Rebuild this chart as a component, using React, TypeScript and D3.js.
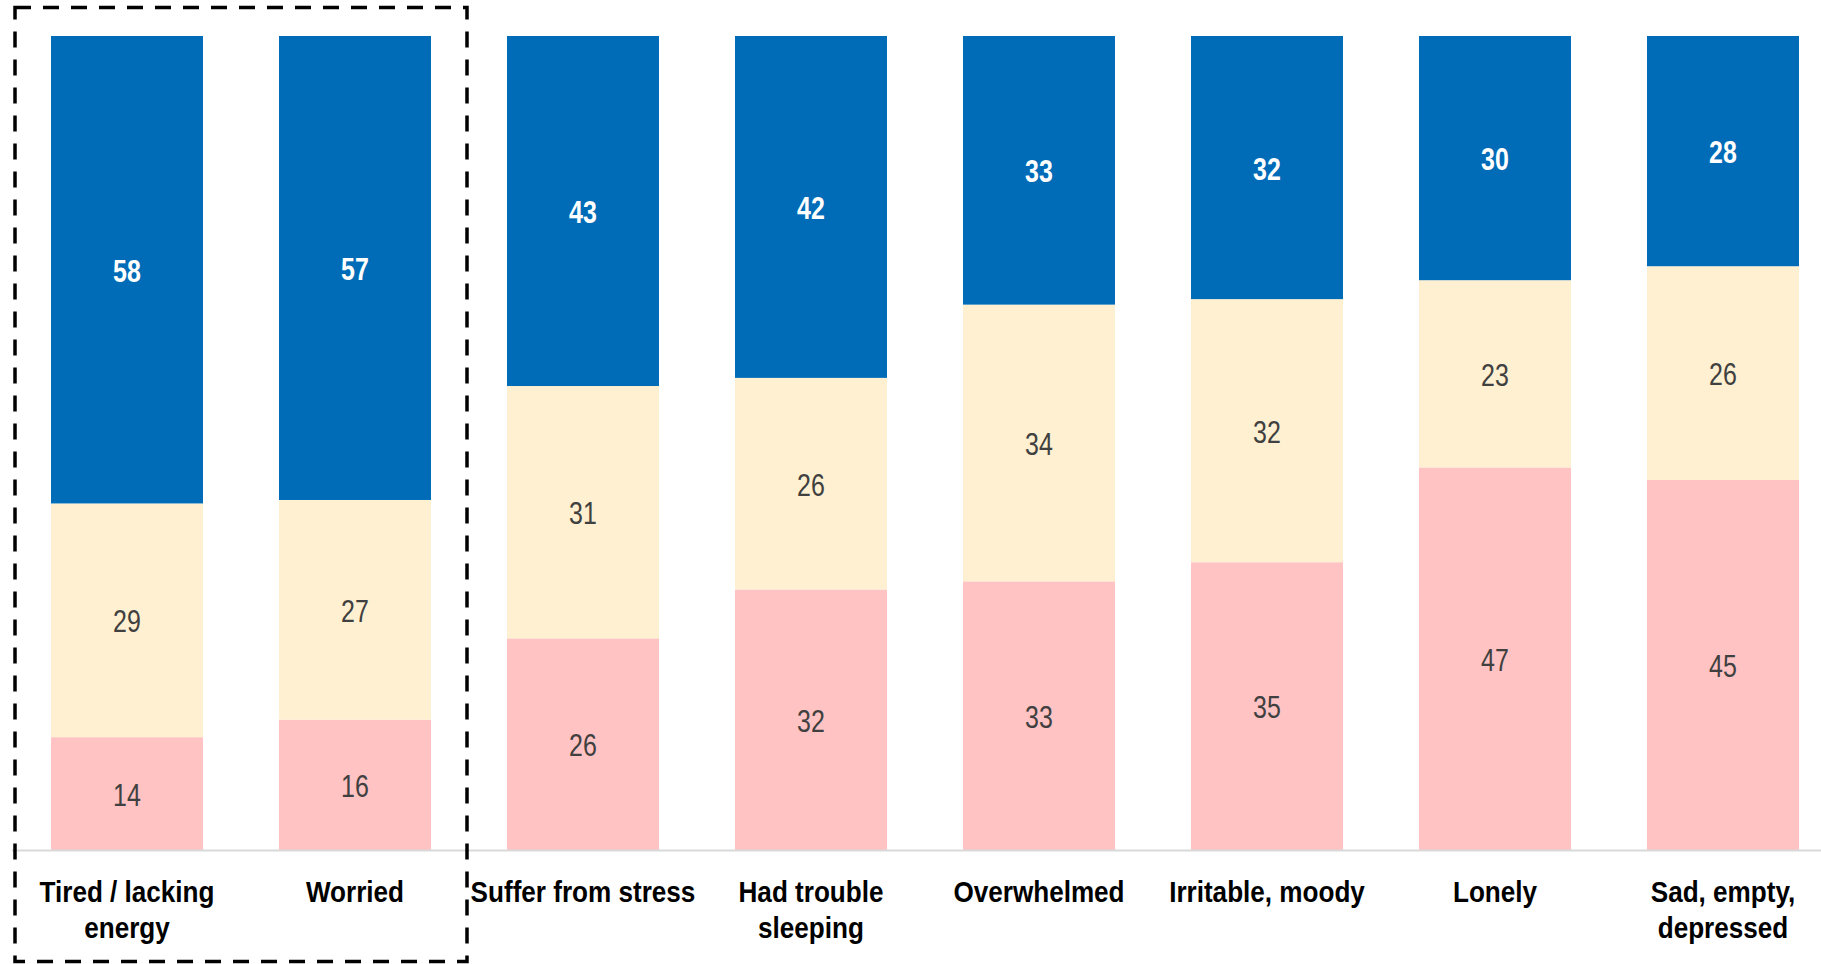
import { scaleBand, scaleLinear, stack, stackOffsetExpand } from "d3";

const categories = [
  ["Tired / lacking", "energy"],
  ["Worried"],
  ["Suffer from stress"],
  ["Had trouble", "sleeping"],
  ["Overwhelmed"],
  ["Irritable, moody"],
  ["Lonely"],
  ["Sad, empty,", "depressed"],
];
const topValues = [58, 57, 43, 42, 33, 32, 30, 28];
const midValues = [29, 27, 31, 26, 34, 32, 23, 26];
const lowValues = [14, 16, 26, 32, 33, 35, 47, 45];

const keys = ["low", "mid", "top"];
const colors = { low: "#FFC3C3", mid: "#FFF0D1", top: "#006CB7" };
const labelColors = { low: "#404040", mid: "#404040", top: "#FFFFFF" };

const width = 1821;
const height = 964;
// no narrow font installed, so Liberation Sans gets squeezed with scaleX
const font = "'Liberation Sans Narrow', 'Liberation Sans', Arial, sans-serif";

export default function App() {
  const rows = categories.map((c, i) => ({
    idx: i,
    low: lowValues[i],
    mid: midValues[i],
    top: topValues[i],
  }));
  const series = stack<any>().keys(keys).offset(stackOffsetExpand)(rows);

  const x = scaleBand<number>()
    .domain(rows.map((r) => r.idx))
    .range([13, 1837])
    .paddingInner(1 / 3)
    .paddingOuter(1 / 6);
  const y = scaleLinear().domain([0, 1]).range([850, 36]);
  const cx = (i: number) => x(i)! + x.bandwidth() / 2;

  return (
    <div style={{ position: "absolute", left: 0, top: 0 }}>
      <svg width={width} height={height} style={{ display: "block" }}>
        {series.map((s) => (
          <g key={s.key}>
            {s.map((d: any, i) => (
              <rect
                key={i}
                x={x(i)}
                y={y(d[1])}
                width={x.bandwidth()}
                height={y(d[0]) - y(d[1])}
                fill={colors[s.key]}
              />
            ))}
          </g>
        ))}
        {series.map((s) => (
          <g key={s.key + "-lbl"}>
            {s.map((d: any, i) => (
              <text
                key={i}
                transform={`translate(${cx(i)},${(y(d[0]) + y(d[1])) / 2 + 12}) scale(0.78,1)`}
                textAnchor="middle"
                fontFamily={font}
                fontSize={32}
                fontWeight={s.key === "top" ? "bold" : "normal"}
                fill={labelColors[s.key]}
              >
                {d.data[s.key]}
              </text>
            ))}
          </g>
        ))}
        <line x1={12} x2={width} y1={850.5} y2={850.5} stroke="#D9D9D9" strokeWidth={2} />
        {categories.map((lines, i) => (
          <text
            key={i}
            transform={`translate(${cx(i)},902) scale(0.87,1)`}
            textAnchor="middle"
            fontFamily={font}
            fontSize={30}
            fontWeight="bold"
            fill="#000"
          >
            {lines.map((t, j) => (
              <tspan key={j} x={0} y={j * 36}>
                {t}
              </tspan>
            ))}
          </text>
        ))}
        <rect
          x={15}
          y={7.5}
          width={452}
          height={954}
          fill="none"
          stroke="#000"
          strokeWidth={3.5}
          strokeDasharray="16 12"
        />
      </svg>
    </div>
  );
}
